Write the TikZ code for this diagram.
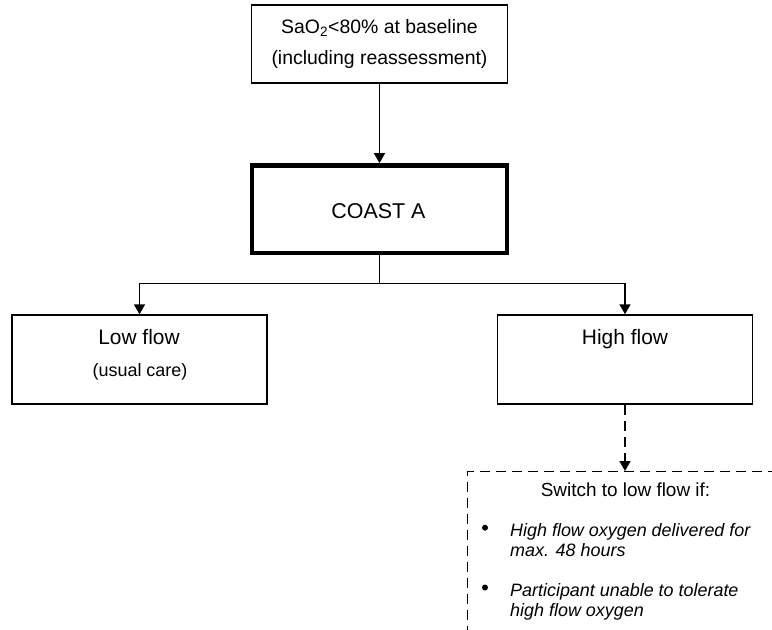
\documentclass[tikz,border=0pt]{standalone}
\usepackage{fontspec}
\setmainfont{Liberation Sans}
\usetikzlibrary{arrows.meta}
\begin{document}
\begin{tikzpicture}[x=1bp,y=-1bp,
  box/.style={draw, line width=1.4bp, inner sep=0pt, minimum width=255bp, minimum height=89bp},
  thickbox/.style={box, line width=4.5bp, minimum width=255bp, minimum height=87.5bp},
  dashbox/.style={draw, line width=1.4bp, dash pattern=on 10bp off 6bp, inner sep=0pt, anchor=north west, minimum width=340bp, minimum height=190bp},
  conn/.style={line width=1.4bp, -{Triangle[length=10bp,width=11bp]}},
  dconn/.style={conn, dash pattern=on 10bp off 6bp},
  plainline/.style={line width=1.4bp},
  txt/.style={inner sep=0pt, anchor=base},
  ltxt/.style={inner sep=0pt, anchor=base west, font=\fontsize{18}{22}\selectfont\itshape},
  dot/.style={circle, fill, inner sep=0pt, minimum size=6bp},
]
\useasboundingbox (0,0) rectangle (772,630);
\clip (0,0) rectangle (772,630);

% boxes
\node[box, minimum width=256bp, minimum height=78bp] (top) at (379.5,44) {};
\node[thickbox] (coast) at (379.5,209.2) {};
\node[box] (low) at (139.5,359.5) {};
\node[box] (high) at (625,359.5) {};
\node[dashbox] (sw) at (467,471) {};

% texts
\node[txt, font=\fontsize{19.5}{23}\selectfont] (t1) at (379.5,33.5) {SaO\textsubscript{2}<80\% at baseline};
\node[txt, font=\fontsize{19.5}{23}\selectfont] (t2) at (379.5,64.5) {(including reassessment)};
\node[txt, font=\fontsize{21.5}{26}\selectfont] (tc) at (378.5,218.3) {COAST A};
\node[txt, font=\fontsize{21}{25}\selectfont] (tl) at (139,344.3) {Low flow};
\node[txt, font=\fontsize{18}{22}\selectfont] (tu) at (140,376) {(usual care)};
\node[txt, font=\fontsize{21}{25}\selectfont] (th) at (625,344) {High flow};
\node[txt, font=\fontsize{19}{23}\selectfont] (ts) at (625.5,496.7) {Switch to low flow if:};

\node[dot] (d1) at (485,527.7) {};
\node[ltxt] (b1a) at (510,536.7) {High flow oxygen delivered for};
\node[ltxt] (b1b) at (510,556.7) {max. 48 hours};
\node[dot] (d2) at (485,587.5) {};
\node[ltxt] (b2a) at (510,596) {Participant unable to tolerate};
\node[ltxt] (b2b) at (510,616.7) {high flow oxygen};

% connectors
\draw[conn] (top.south) -- (coast.north);
\coordinate (br) at (379.5,283.5);
\draw[plainline] (coast.south) -- (br);
\draw[conn] (br) -| (low.north);
\draw[conn] (br) -| (high.north);
\draw[dconn] (high.south) -- (high.south |- sw.north);
\end{tikzpicture}
\end{document}
